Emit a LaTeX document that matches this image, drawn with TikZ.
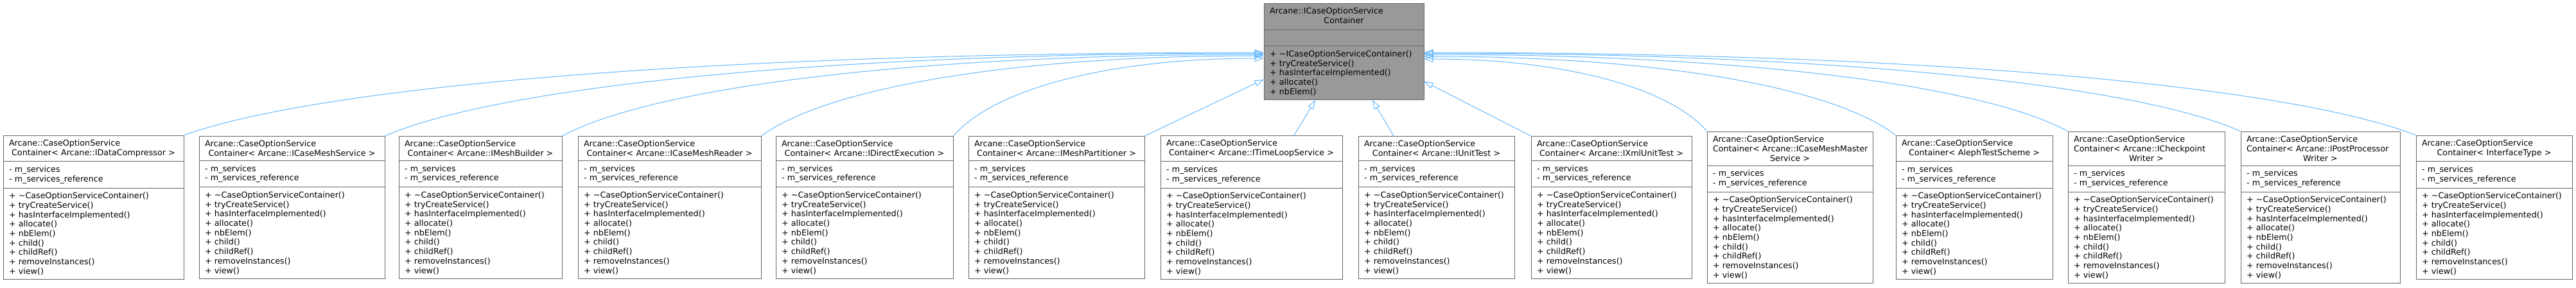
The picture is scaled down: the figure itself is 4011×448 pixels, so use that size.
\documentclass[tikz,border=0pt]{standalone}
\usepackage{fontspec}
\setmainfont{DejaVu Sans}
\usepackage{tikz}
\usetikzlibrary{shapes.multipart, arrows.meta}
\definecolor{edgeblue}{RGB}{99, 184, 255}
\definecolor{boxline}{RGB}{102, 102, 102}
\definecolor{ifacefill}{RGB}{153, 153, 153}
\hyphenpenalty=10000
\exhyphenpenalty=10000

\newcommand{\lastline}[1]{\hspace*{\fill}#1\hspace*{\fill}\null}
\newcommand{\svcattrs}{- m\_services\\- m\_services\_reference}
\newcommand{\svcops}{+ \textasciitilde CaseOptionServiceContainer()\\+ tryCreateService()\\
  + hasInterfaceImplemented()\\+ allocate()\\+ nbElem()\\+ child()\\+ childRef()\\
  + removeInstances()\\+ view()}

\tikzset{
  cls/.style={rectangle split, rectangle split parts=3, draw=boxline, line width=1pt,
    fill=white, text width=#1, align=left, inner xsep=9pt, inner ysep=6.4pt,
    font=\fontsize{12.7}{14.7}\selectfont},
  inh/.style={edgeblue, line width=1pt, -{Triangle[open, length=14pt, width=10pt]}}
}

\begin{document}
\begin{tikzpicture}[x=1pt, y=-1pt]
  \useasboundingbox (0, 0) rectangle (4011, 448);

  \node[cls=231pt, fill=ifacefill] (iface) at (2092.5, 80.5)
    {Arcane::ICaseOptionService\\\lastline{Container\vphantom{p}}
     \nodepart{two}\rule{0pt}{12pt}
     \nodepart{three}+~\textasciitilde ICaseOptionServiceContainer()\\+ tryCreateService()\\
     + hasInterfaceImplemented()\\+ allocate()\\+ nbElem()};

  \foreach \n/\x/\w/\t in {
      compressor/145.5/281/{\lastline{Container<~Arcane::IDataCompressor~>}},
      meshservice/454.5/289/{\lastline{Container<~Arcane::ICaseMeshService~>}},
      meshbuilder/748/254/{\lastline{Container<~Arcane::IMeshBuilder~>}},
      meshreader/1042.5/285/{\lastline{Container<~Arcane::ICaseMeshReader~>}},
      directexec/1346/276/{\lastline{Container<~Arcane::IDirectExecution~>}},
      partitioner/1645/274/{\lastline{Container<~Arcane::IMeshPartitioner~>}},
      timeloop/1948.5/283/{\lastline{Container<~Arcane::ITimeLoopService~>}},
      unittest/2236.5/243/{\lastline{Container<~Arcane::IUnitTest~>}},
      xmltest/2509/250/{\lastline{Container<~Arcane::IXmlUnitTest~>}},
      meshmaster/2787/258/{Container<~Arcane::ICaseMeshMaster\\\lastline{Service~>}},
      aleph/3074/244/{\lastline{Container<~AlephTestScheme~>}},
      checkpoint/3342/244/{Container<~Arcane::ICheckpoint\\\lastline{Writer~>}},
      postproc/3613/248/{Container<~Arcane::IPostProcessor\\\lastline{Writer~>}},
      generic/3883.5/243/{\lastline{Container<~InterfaceType~>}}} {
    \pgfmathsetmacro{\tw}{\w - 18}
    \node[cls=\tw pt] (\n) at (\x, 323.5)
      {Arcane::CaseOptionService\\\t \nodepart{two}\svcattrs \nodepart{three}\svcops};
  }

  % left side of the interface
  \foreach \n/\a/\b/\c/\s in {compressor/219/78/841/1.5, meshservice/178/77/685/2.5,
      meshbuilder/142/76/547/4.5, meshreader/102/75/392/6.5, directexec/63/73/242/10.5} {
    \draw[inh] (\n.north east) .. controls +(\a, -\b) and +(-\c, 0)
      .. ([yshift=-\s pt]iface.west);
  }
  \draw[inh] (partitioner.north east) -- ([yshift=-43.5pt]iface.west);

  % underneath
  \draw[inh] ([xshift=66.5pt]timeloop.north) -- ([xshift=-44.5pt]iface.south);
  \draw[inh] ([xshift=-66.5pt]unittest.north) -- ([xshift=44.5pt]iface.south);

  % right side of the interface
  \draw[inh] (xmltest.north west) -- ([yshift=-46.5pt]iface.east);
  \foreach \n/\a/\b/\c/\s in {generic/201/78/772/1.5, postproc/165/73/636/2.5,
      checkpoint/130/71/501/4.5, aleph/96/74/367/7.5, meshmaster/57/67/220/11.5} {
    \draw[inh] (\n.north west) .. controls +(-\a, -\b) and +(\c, 0)
      .. ([yshift=-\s pt]iface.east);
  }
\end{tikzpicture}
\end{document}
